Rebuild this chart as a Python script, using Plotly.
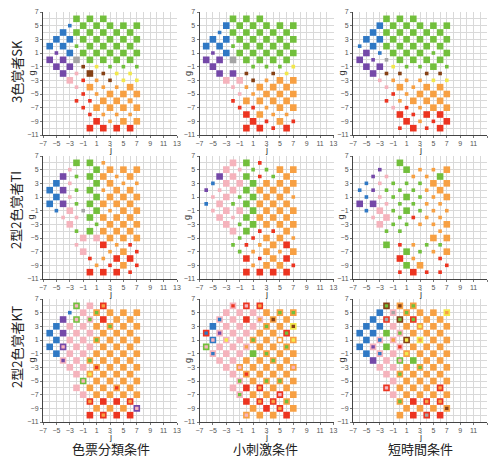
import plotly.graph_objects as go

# ---------------- data ----------------
# chip rows of the OSA-UCS plane: g value and j range (step 2)
row_g = [6, 5, 4, 3, 2, 1, 0, -1, -2, -3, -4, -5, -6, -7, -8, -9, -10]
row_j_start = [-2, -3, -4, -5, -6, -5, -6, -5, -4, -3, -2, -1, -2, -1, 0, 1, 0]

# token: <category><count>[/<second category>], "." = no answer
sk_sorting = [
    "G3 G3 G3", "B1 G3 G3 G3 G3 G3", "B3 G3 G3 G3 G3 G3", "B3 B3 G3 G3 G3 G3 G3",
    "B3 B3 G1 G3 G3 G3 G3", "P1 B3 G3 G3 G3 G3 G3", "P3 P3 A3 G3 G3 G3 G3",
    "P3 P3 N1 Y1 G1 G1 G1", "P3 K1 N3 N1 Y1 Y1", "K3 R1 O1 N1 Y1 Y1",
    "K1 O3 O1 O1 O3", "R1 O1 O3 O3 O3", "R1 R1 O3 O3 O2", "R1 O3 O3 O3 O3",
    "R1 O1 O1 O1", "R3 O1 O3 O3", "R3 R3 R3 R3"]
sk_small = [
    "G3 G3 G3", "B3 G3 G3 G3 G3 G3", "B1 G3 G3 G3 G3 G3", "B3 B3 G3 G3 G3 G3 G3",
    "B3 B3 G1 G3 G3 G3 G3", "P1 B3 G3 G3 G3 G3 G3", "P3 P3 A3 G3 G3 G3 G3",
    "P3 . . G1 G1 G1 Y1", "P3 P3 N1 . N1 Y1", "K3 K3 N1 O1 O3 O3",
    "K1 O1 O3 O3 O3", "K1 O1 O3 O3 O3", "R1 O3 O3 O3 O3", "R1 R1 O1 O3 O3",
    "R3 O3 O1 O1", "R3 R1 O3 R1", "R3 R3 R1 R3"]
sk_short = [
    "G3 G3 G3", "B3 G3 G3 G3 G3 G3", "B3 G3 G3 G3 G3 G3", "B3 B3 G3 G3 G3 G3 G3",
    "B1 B3 G3 G3 G3 G3 G3", "P3 B1 G3 G3 G3 G1 G3", "P3 P1 A1 G3 G3 G3 G3",
    "P3 P3 Y1 G1 G1 G3 G1", "P3 N1 N1 . N1 N1", "K1 O1 O1 O1 Y1 Y1",
    "K1 O3 O1 O3 O3", "R1 O1 O3 O3 O3", "R1 O1 O3 O3 O3", "K1 R1 O1 O3 O3",
    "R3 R1 R3 R3", "R3 O1 R1 R3", "R1 R3 R1 R3"]

ti_sorting = [
    "G3 G3 O1", "K1 . G3 O3 O3 O3", "P3 G1 G3 O3 O1 O3", "B3 K1 . G3 O3 O1 O1",
    "B3 P3 G1 G3 O1 O3 O3", "B3 K1 . G3 O3 O3 O3", "B3 P3 G1 G3 O3 O3 O3",
    "B1 K3 A1 G3 O1 O3 O3", "K1 K1 G3 O3 O3 O3", "K3 . G1 O3 O3 O3",
    "G1 G3 O3 O3 O3", "K3 K3 O3 O3 O3", "K1 . R3 O1 R1", "K3 . O1 O3 R1",
    "R1 O1 R3 R3", "O1 R1 O3 R1", "R3 R3 R3 R1"]
ti_small = [
    "K3 G3 R1", "K3 K1 G1 G1 O3 O3", "P3 K3 G3 R1 G1 O3", "B1 K3 K3 G3 O3 O3 O3",
    "P1 K1 K3 G3 O3 O3 O3", "K1 K3 G1 G3 O3 O3 O1", "B1 K3 G1 G3 O3 O3 O3",
    "K1 K3 K3 G3 O3 O3 O3", "K3 K1 G3 O3 O3 O3", "K3 G1 G3 O3 O3 O3",
    "K3 G3 R1 R1 O3", "G1 R1 O3 O3 O1", "G1 R1 O1 O3 R3", "G1 O1 O3 O1 O3",
    "R3 R1 O3 R3", "O1 O3 O3 R1", "R3 R3 R3 R3"]
ti_short = [
    ". G3 .", "P1 . G3 O1 O1 O3", "P1 K1 . O1 O1 G3", "B1 K1 G1 G1 G1 O3 O3",
    "B1 P1 G1 G1 G1 O1 O3", "B1 K1 G1 G3 G1 O1 O3", "P3 P3 K1 G1 G1 O1 O1",
    "B1 K3 G1 G3 G1 O1 O1", "K1 K3 G1 R1 O1 O1", "K3 G1 G1 O1 O1 O3",
    "G1 G1 . . O1", ". . . O3 O3", "G3 R1 O1 G1 G1", ". G3 G1 O1 O3",
    "R3 O1 . R1", "G3 O3 . R1", "R1 R3 R1 R1"]

kt_sorting = [
    "K3/G K3 O3/R", "B1 K3 G3/O O3 O3 O3", "P3 K3/G G3/K R3 O3 O3", "B3 K3 K3 O3 G3/O O3 O3",
    "B3 P3 K3 K3 O3 O3 O3", "B3 K3 K3 G3/O O3 O3 O3", "B3 K3/P K3 K3 O3 O3 O3",
    "B3 K3 K3 O3 O3 O3 O3", "P3/K K3 G3/O O3 O3 O3", "K3 K3 R3/O O3 O3 O3",
    "K3 Y3/O O3 O3 O3", "K3/G O3 O3 O3 O3", "K3 O3 O3 R3/O O3", "K3 O3 O3 O3 O3",
    "O3/R R3 R3 O3/R", "O3 O3 O3 K3/P", "R3 O3/R R3 R3"]
kt_small = [
    "R3/K K3/R O3/R", "K3 K3 K3 O3 G3/O G3/O", "B3/K K3 R3 O3/K N3/O O3", "B3 K3 K3 K3 G3/O O3 N3/Y",
    "B3/R P3/K K3 K3 O3 O3 G3/R", "K3/B Y3/K K3 G3/O O3 W3/O Y3/O", "K3/G K3 K3 O3/K O3 O3 G3/O",
    "B3/K K3 K3 G3 G3/O O3 O3", "K3 K3 O3 O3 G3/O O3", "K3 K3/O O3 O3 O3 K3/O",
    "K3 R3/O O3 O3 O3", "G3/K O3 G3/O G3/O O3", "K3 R3 O3/R O3 O3", "G3/K O3 O3 K3/R O3",
    "R3 O3/R O3/R G3/O", "O3 R3 O3/R O3", "K3/O O3 O3 R3"]
kt_short = [
    "G3/N N3/O G3/O", "B3 A3/K G3/O O3 O3 O3/Y", "B3 A3/R G3/N G3/R O3 O3", "B3 B3 K3 O3 Y3/O O3 O3",
    "B3 B3 G3 G3/K O3 O3 O3", "B3 B3/K O3/K Y3/N O3/Y O3 O3", "B3 P3/K G3 R3/K O3 O3 O3",
    "B3 B3/K K3 Y3/O O3 O3 O3", "P3 K3 K3/G G3 O3 O3", "K3 K3 O3 G3/O O3 O3",
    "K3 G3/O O3 O3 O3", "K3 O3 O3 O3 O3", "K3/R O3 O3 O3 O3/R", "K3 O3 O3 O3 O3",
    "G3/O R3 O3/R O3/R", "O3 O3 O3 N3/O", "O3 R3 A3/R R3"]

panels = [sk_sorting, sk_small, sk_short,
          ti_sorting, ti_small, ti_short,
          kt_sorting, kt_small, kt_short]
row_labels = ["3色覚者SK", "2型2色覚者TI", "2型2色覚者KT"]
col_labels = ["色票分類条件", "小刺激条件", "短時間条件"]
x_ticks = list(range(-7, 14, 2))
y_ticks = list(range(-11, 8, 2))

# ---------------- style ----------------
palette = {"B": "#2f78c4", "G": "#72bf3c", "P": "#7448a8", "A": "#a5a5a5",
           "K": "#f5b3bc", "R": "#ec3420", "O": "#f7a043", "N": "#854015",
           "Y": "#f2e84c", "W": "#ffffff"}
size_px = {3: 6.6, 2: 5.0, 1: 3.6}
outline_w = 1.6

col_x = [(43, 177), (199.5, 333.5), (353, 487)]
row_y = [(12, 135), (156, 279), (299, 422)]
W, H = 489, 457

fig = go.Figure()
tick_font = dict(family="Liberation Sans, Arial, sans-serif", size=7, color="#555555")
title_font = dict(family="Liberation Sans, Arial, sans-serif", size=9, color="#333333")
annots = []

for idx, rows in enumerate(panels):
    r, c = divmod(idx, 3)
    js, gs, sz, fc, lc, lw = [], [], [], [], [], []
    for g, j0, row in zip(row_g, row_j_start, rows):
        for k, tok in enumerate(row.split()):
            if tok == ".":
                continue
            j = j0 + 2 * k
            main, _, second = tok.partition("/")
            cat, cnt = main[0], int(main[1])
            js.append(j)
            gs.append(g)
            fc.append(palette[cat])
            if second:
                lc.append(palette[second])
                lw.append(outline_w)
                sz.append(size_px[cnt] - outline_w)
            else:
                lc.append(palette[cat])
                lw.append(0)
                sz.append(size_px[cnt])
    n = idx + 1
    xa = "x" if n == 1 else f"x{n}"
    ya = "y" if n == 1 else f"y{n}"
    fig.add_trace(go.Scatter(
        x=js, y=gs, mode="markers", xaxis=xa, yaxis=ya, showlegend=False,
        marker=dict(symbol="square", size=sz, color=fc, opacity=1,
                    line=dict(color=lc, width=lw)),
        hoverinfo="x+y"))

    xd = [col_x[c][0] / W, col_x[c][1] / W]
    yd = [1 - row_y[r][1] / H, 1 - row_y[r][0] / H]
    axis_common = dict(showgrid=True, gridcolor="#d9d9d9", gridwidth=0.6,
                       zeroline=False, showline=True, linecolor="#444444", linewidth=1,
                       ticks="outside", ticklen=2, tickcolor="#777777", tickwidth=0.6,
                       tickfont=tick_font, fixedrange=True, automargin=False,
                       minor=dict(dtick=1, showgrid=True, gridcolor="#d9d9d9", gridwidth=0.6))
    key = "" if n == 1 else str(n)
    fig.layout["xaxis" + key] = dict(
        axis_common, domain=xd, range=[-7, 13], tickmode="array", tickvals=x_ticks,
        anchor=ya)
    fig.layout["yaxis" + key] = dict(
        axis_common, domain=yd, range=[-11, 7], tickmode="array", tickvals=y_ticks,
        anchor=xa)

    # axis titles
    xc = (col_x[c][0] + col_x[c][1]) / 2
    yc = (row_y[r][0] + row_y[r][1]) / 2
    annots.append(dict(text="j", x=xc / W, y=1 - (row_y[r][1] + 15) / H,
                       xref="paper", yref="paper", showarrow=False, font=title_font,
                       xanchor="center", yanchor="middle"))
    annots.append(dict(text="g", x=(col_x[c][0] - 12) / W, y=1 - yc / H,
                       xref="paper", yref="paper", showarrow=False, font=title_font,
                       textangle=-90, xanchor="center", yanchor="middle"))

label_font = dict(family="Noto Sans CJK JP", size=13, color="#222222")
for r, txt in enumerate(row_labels):
    yc = [72, 210, 347][r]
    annots.append(dict(text=txt, x=16 / W, y=1 - yc / H, xref="paper", yref="paper",
                       textangle=-90, showarrow=False, font=label_font,
                       xanchor="center", yanchor="middle"))
for c, txt in enumerate(col_labels):
    xc = [111, 265, 420][c]
    annots.append(dict(text=txt, x=xc / W, y=1 - 448.5 / H, xref="paper", yref="paper",
                       showarrow=False, font=label_font, xanchor="center", yanchor="middle"))

fig.update_layout(width=W, height=H, margin=dict(l=0, r=0, t=0, b=0),
                  paper_bgcolor="white", plot_bgcolor="white",
                  annotations=annots)
fig.write_html("out.html", config={"displayModeBar": False},
               post_script="document.body.style.margin='0';document.body.style.padding='0';")
